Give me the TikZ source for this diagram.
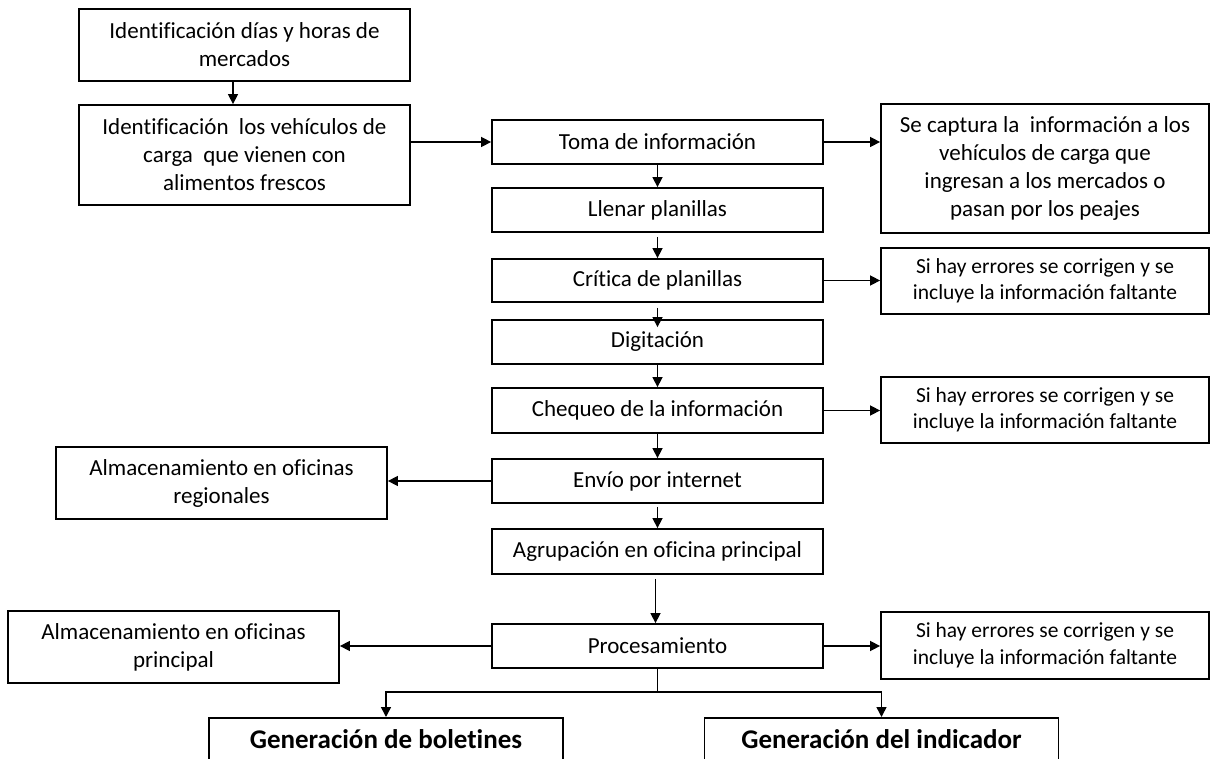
\documentclass[tikz,border=0pt]{standalone}
\usepackage{fontspec}
\setmainfont[Ligatures=CommonOff]{Carlito}
\usetikzlibrary{arrows.meta,calc}
\begin{document}
\begin{tikzpicture}[x=1pt,y=-1pt,
  box/.style={draw,line width=1.8pt,minimum width=331pt,minimum height=44pt,inner sep=2pt,align=center,font=\fontsize{23}{28}\selectfont},
  sbox/.style={box,minimum width=328pt,font=\fontsize{21.5}{26.5}\selectfont},
  bbox/.style={draw,line width=1.8pt,minimum width=354pt,minimum height=0pt,inner xsep=2pt,inner ysep=2pt,text height=29pt,text depth=20pt,anchor=north,font=\bfseries\fontsize{27}{32}\selectfont},
  arr/.style={line width=1.5pt,-{Triangle[length=10pt,width=10pt]}},
  ln/.style={line width=1.5pt}]
\useasboundingbox (0,0) rectangle (1211,759);

\node[box,minimum height=72pt] (b1) at (244.5,45) {Identificación días y horas de\\mercados};
\node[box,minimum height=100pt] (b2) at (244.5,155) {Identificación\ \ los vehículos de\\carga\ \ que vienen con\\alimentos frescos};
\node[box] (toma) at (657.5,142) {Toma de información};
\node[box] (llen) at (657.5,210) {Llenar planillas};
\node[box,minimum height=43pt] (crit) at (657.5,280.5) {Crítica de planillas};
\node[box] (digi) at (657.5,342) {Digitación};
\node[box,minimum height=45pt] (cheq) at (657.5,410.5) {Chequeo de la información};
\node[box] (envi) at (657.5,481) {Envío por internet};
\node[box,minimum height=45pt] (agru) at (657.5,551.5) {Agrupación en oficina principal};
\node[box] (proc) at (657.5,646) {Procesamiento};

\node[box,minimum width=328pt,minimum height=129pt] (capt) at (1045,168.5) {Se captura la\ \ información a los\\vehículos de carga que\\ingresan a los mercados o\\pasan por los peajes};
\node[sbox,minimum height=66pt] (err1) at (1045,281) {Si hay errores se corrigen y se\\incluye la información faltante};
\node[sbox,minimum height=66pt] (err2) at (1045,410) {Si hay errores se corrigen y se\\incluye la información faltante};
\node[sbox,minimum height=67pt] (err3) at (1045,645.5) {Si hay errores se corrigen y se\\incluye la información faltante};

\node[box,minimum height=72pt] (alm1) at (221.5,483) {Almacenamiento en oficinas\\regionales};
\node[box,minimum height=72pt] (alm2) at (173.5,647) {Almacenamiento en oficinas\\principal};

\node[bbox] (gbol) at (386,717) {Generación de boletines};
\node[bbox] (gind) at (881.5,717) {Generación del indicador};

\coordinate (ax) at (233,0);
\draw[arr] (b1.south -| ax) -- (b2.north -| ax);
\draw[arr] (b2.east |- toma.west) -- (toma.west);
\draw[arr] (toma.east) -- (toma.east -| capt.west);
\draw[arr] (toma.south) -- (llen.north);
\draw[arr] ($(llen.south)+(0,4)$) -- (crit.north);
\draw[arr] ($(crit.south)+(0,5)$) -- ($(digi.north)+(0,8)$);
\draw[arr] (digi.south) -- (cheq.north);
\draw[arr] (cheq.south) -- (envi.north);
\draw[arr] ($(envi.south)+(0,3)$) -- (agru.north);
\draw[arr] ($(agru.south)+(-2,4)$) -- ($(proc.north)+(-2,0)$);
\draw[arr] (crit.east) -- (crit.east -| err1.west);
\draw[arr] (cheq.east) -- (cheq.east -| err2.west);
\draw[arr] (envi.west) -- (envi.west -| alm1.east);
\draw[arr] (proc.west) -- (proc.west -| alm2.east);
\draw[arr] (proc.east) -- (proc.east -| err3.west);
\coordinate (br) at (657.5,692);
\draw[ln] (proc.south) -- (br);
\draw[arr] (br) -| (gbol.north);
\draw[arr] (br) -| (gind.north);
\end{tikzpicture}
\end{document}
